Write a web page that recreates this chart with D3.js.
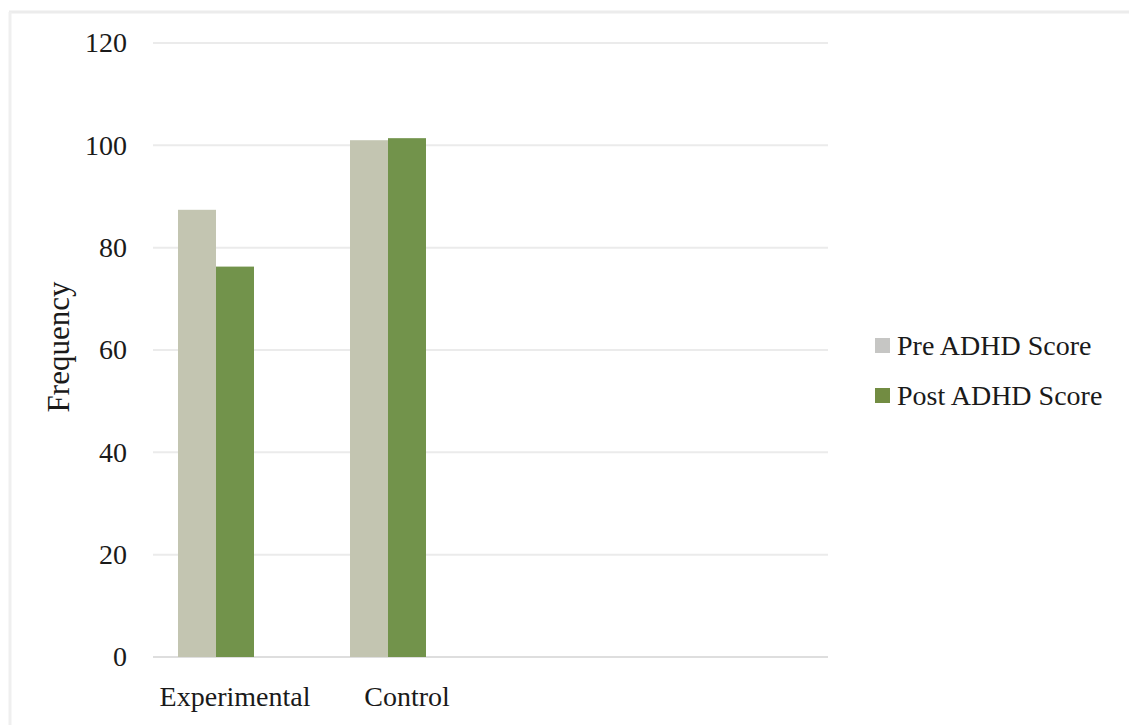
<!DOCTYPE html>
<html>
<head>
<meta charset="utf-8">
<script src="https://cdn.jsdelivr.net/npm/d3@7"></script>
<style>
  html, body { margin: 0; padding: 0; background: #fff; }
  svg { display: block; }
  svg text { font-family: "Liberation Serif", Tinos, "Times New Roman", "DejaVu Serif", serif; fill: #1a1a1a; }
</style>
</head>
<body>
<svg id="chart" width="1129" height="725"></svg>
<script>
// ADHD scores by group, before and after
const categories = ["Experimental", "Control"];
const seriesNames = ["Pre ADHD Score", "Post ADHD Score"];
const preScores = [87.4, 101.0];
const postScores = [76.3, 101.4];
const yTicks = [0, 20, 40, 60, 80, 100, 120];

const colors = ["#c3c5b1", "#72934b"];
const legendColors = ["#c6c6c4", "#728c42"];
const FONT = "'Liberation Serif', Tinos, 'Times New Roman', 'DejaVu Serif', serif";

const svg = d3.select("#chart");
const W = 1129, H = 725;

// faint outer frame (top and left edges)
svg.append("line").attr("x1", 9).attr("x2", W).attr("y1", 12).attr("y2", 12)
  .attr("stroke", "#ececec").attr("stroke-width", 3);
svg.append("line").attr("x1", 10).attr("x2", 10).attr("y1", 12).attr("y2", H)
  .attr("stroke", "#efefef").attr("stroke-width", 3);

const plot = { left: 153, right: 828, top: 43, bottom: 657 };

const y = d3.scaleLinear().domain([0, 120]).range([plot.bottom, plot.top]);

const x0 = d3.scaleBand().domain(categories).range([130, 474]);
const groupWidth = 76;
const x1 = d3.scaleBand().domain(seriesNames).range([0, groupWidth]);

// gridlines
svg.append("g")
  .selectAll("line")
  .data(yTicks)
  .join("line")
  .attr("x1", plot.left).attr("x2", plot.right)
  .attr("y1", d => y(d)).attr("y2", d => y(d))
  .attr("stroke", d => d === 0 ? "#dedede" : "#ebebeb")
  .attr("stroke-width", 2);

// y axis labels
const yAxis = d3.axisLeft(y).tickValues(yTicks).tickSize(0).tickPadding(0);
const yg = svg.append("g").attr("transform", `translate(${plot.left - 26},0)`).call(yAxis);
yg.attr("font-family", FONT);
yg.select(".domain").remove();
yg.selectAll("text")
  .style("font-size", "28px")
  .style("font-family", FONT)
  .attr("fill", "#1a1a1a");

// bars
const rows = categories.map((c, i) => ({ cat: c, values: [preScores[i], postScores[i]] }));
const groups = svg.append("g")
  .selectAll("g")
  .data(rows)
  .join("g")
  .attr("transform", d => `translate(${x0(d.cat) + (x0.bandwidth() - groupWidth) / 2},0)`);

groups.selectAll("rect")
  .data(d => d.values.map((v, j) => ({ name: seriesNames[j], v, j })))
  .join("rect")
  .attr("x", d => x1(d.name))
  .attr("width", x1.bandwidth())
  .attr("y", d => y(d.v))
  .attr("height", d => y(0) - y(d.v))
  .attr("fill", d => colors[d.j]);

// x axis labels (category names sit slightly right of their bar pairs)
const xAxis = d3.axisBottom(x0).tickSize(0).tickPadding(0);
const xg = svg.append("g").attr("transform", `translate(19,${plot.bottom + 27})`).call(xAxis);
xg.attr("font-family", FONT);
xg.select(".domain").remove();
xg.selectAll("text")
  .style("font-size", "28px")
  .style("font-family", FONT)
  .attr("fill", "#1a1a1a")
  .attr("dy", "0.8em");

// y axis title
svg.append("text")
  .attr("transform", "translate(69,347) rotate(-90)")
  .attr("text-anchor", "middle")
  .style("font-size", "31px")
  .style("font-family", FONT)
  .text("Frequency");

// legend
const legend = svg.append("g").attr("transform", "translate(875,333)");
const li = legend.selectAll("g")
  .data(seriesNames)
  .join("g")
  .attr("transform", (d, i) => `translate(0,${i * 50})`);
li.append("rect")
  .attr("x", 0).attr("y", 5)
  .attr("width", 15).attr("height", 15)
  .attr("fill", (d, i) => legendColors[i]);
li.append("text")
  .attr("x", 22).attr("y", 22)
  .style("font-size", "28px")
  .style("font-family", FONT)
  .text(d => d);
</script>
</body>
</html>
